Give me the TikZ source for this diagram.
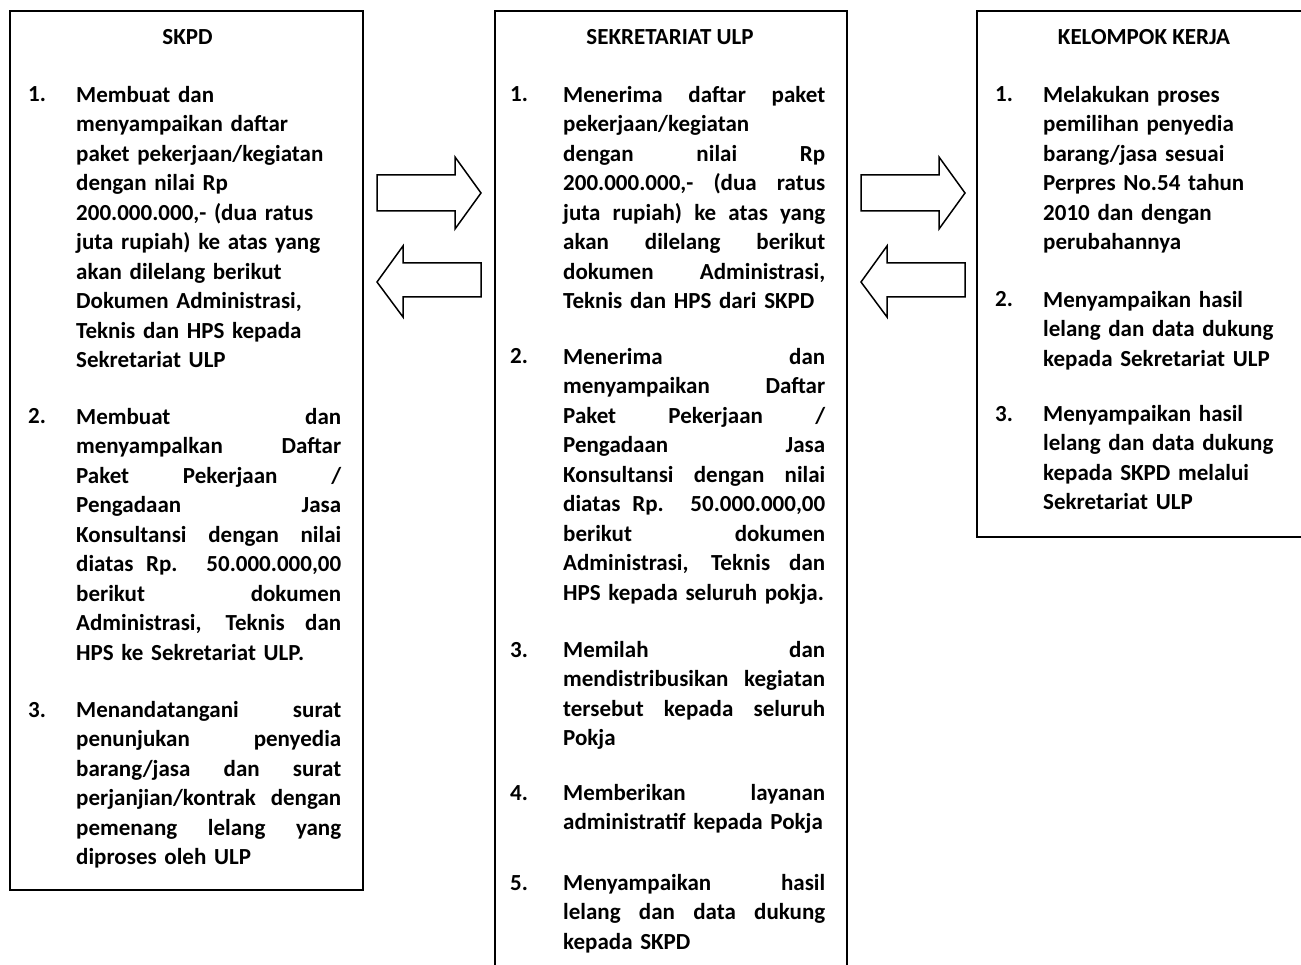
\documentclass[tikz,border=0pt]{standalone}
\usepackage{fontspec}
\setmainfont{Carlito}
\newlength{\colL}\setlength{\colL}{265pt}
\newlength{\colM}\setlength{\colM}{262pt}
\newlength{\colR}\setlength{\colR}{250pt}
\newcommand{\jL}[1]{\makebox[\colL][s]{\spaceskip=0pt\xspaceskip=0pt\strut #1}\\}
\newcommand{\jM}[1]{\makebox[\colM][s]{\spaceskip=0pt\xspaceskip=0pt\strut #1}\\}
\begin{document}
\begin{tikzpicture}[x=1pt,y=-1pt,
  txt/.style={font=\fontsize{23}{29.5}\selectfont\bfseries},
  boxline/.style={line width=1.6pt, line join=miter},
  blockarrow/.style={line width=1.5pt, line join=miter, fill=white},
  title/.style={txt, anchor=base, inner sep=0pt},
  num/.style={txt, anchor=base west, inner sep=0pt},
  itemL/.style={txt, anchor=north west, inner sep=0pt, text width=\colL, align=left},
  itemM/.style={txt, anchor=north west, inner sep=0pt, text width=\colM, align=left},
  itemR/.style={txt, anchor=north west, inner sep=0pt, text width=\colR, align=left}]
\useasboundingbox (0,0) rectangle (1301,965);
\fill[white] (0,0) rectangle (1301,965);

% boxes
\draw[boxline] (10,11) rectangle (363,890);
\draw[boxline] (495,980) -- (495,11) -- (847,11) -- (847,980);
\draw[boxline] (1301,537) -- (977,537) -- (977,11) -- (1301,11);

% titles
\node[title] (tSKPD) at (187.5,45) {SKPD};
\node[title] (tULP) at (670,45) {SEKRETARIAT ULP};
\node[title] (tKK) at (1144,45) {KELOMPOK KERJA};

% SKPD items
\node[num] (s1n) at (28,102) {1.};
\node[itemL] (s1) at (76,81.35) {\strut Membuat dan\\
menyampaikan daftar\\
paket pekerjaan/kegiatan\\
dengan nilai Rp\\
200.000.000,- (dua ratus\\
juta rupiah) ke atas yang\\
akan dilelang berikut\\
Dokumen Administrasi,\\
Teknis dan HPS kepada\\
Sekretariat ULP};

\node[num] (s2n) at (28,424) {2.};
\node[itemL] (s2) at (76,403.35) {\jL{Membuat dan}
\jL{menyampalkan Daftar}
\jL{Paket Pekerjaan /}
\jL{Pengadaan Jasa}
\jL{Konsultansi dengan nilai}
\jL{diatas Rp. 50.000.000,00}
\jL{berikut dokumen}
\jL{Administrasi, Teknis dan}
HPS ke Sekretariat ULP.};

\node[num] (s3n) at (28,717) {3.};
\node[itemL] (s3) at (76,696.35) {\jL{Menandatangani surat}
\jL{penunjukan penyedia}
\jL{barang/jasa dan surat}
\jL{perjanjian/kontrak dengan}
\jL{pemenang lelang yang}
diproses oleh ULP};

% ULP items
\node[num] (u1n) at (510,102) {1.};
\node[itemM] (u1) at (563,81.35) {\jM{Menerima daftar paket}
pekerjaan/kegiatan\\
\jM{dengan nilai Rp}
\jM{200.000.000,- (dua ratus}
\jM{juta rupiah) ke atas yang}
\jM{akan dilelang berikut}
\jM{dokumen Administrasi,}
Teknis dan HPS dari SKPD};

\node[num] (u2n) at (510,364) {2.};
\node[itemM] (u2) at (563,343.35) {\jM{Menerima dan}
\jM{menyampaikan Daftar}
\jM{Paket Pekerjaan /}
\jM{Pengadaan Jasa}
\jM{Konsultansi dengan nilai}
\jM{diatas Rp. 50.000.000,00}
\jM{berikut dokumen}
\jM{Administrasi, Teknis dan}
HPS kepada seluruh pokja.};

\node[num] (u3n) at (510,657) {3.};
\node[itemM] (u3) at (563,636.35) {\jM{Memilah dan}
\jM{mendistribusikan kegiatan}
\jM{tersebut kepada seluruh}
Pokja};

\node[num] (u4n) at (510,800) {4.};
\node[itemM] (u4) at (563,779.35) {\jM{Memberikan layanan}
administratif kepada Pokja};

\node[num] (u5n) at (510,890) {5.};
\node[itemM] (u5) at (563,869.35) {\jM{Menyampaikan hasil}
\jM{lelang dan data dukung}
kepada SKPD};

% Kelompok Kerja items
\node[num] (k1n) at (995,102) {1.};
\node[itemR] (k1) at (1043,81.35) {\strut Melakukan proses\\
pemilihan penyedia\\
barang/jasa sesuai\\
Perpres No.54 tahun\\
2010 dan dengan\\
perubahannya};

\node[num] (k2n) at (995,307) {2.};
\node[itemR] (k2) at (1043,286.35) {\strut Menyampaikan hasil\\
lelang dan data dukung\\
kepada Sekretariat ULP};

\node[num] (k3n) at (995,421) {3.};
\node[itemR] (k3) at (1043,400.35) {\strut Menyampaikan hasil\\
lelang dan data dukung\\
kepada SKPD melalui\\
Sekretariat ULP};

% block arrows SKPD <-> ULP
\draw[blockarrow] (377,175) -- (455,175) -- (455,157) -- (481,193) -- (455,229) -- (455,211) -- (377,211) -- cycle;
\draw[blockarrow] (377,282) -- (403,246) -- (403,263) -- (481,263) -- (481,297) -- (403,297) -- (403,317) -- cycle;
% block arrows ULP <-> Kelompok Kerja
\draw[blockarrow] (861,175) -- (939,175) -- (939,157) -- (965,193) -- (939,229) -- (939,211) -- (861,211) -- cycle;
\draw[blockarrow] (861,282) -- (887,246) -- (887,263) -- (965,263) -- (965,297) -- (887,297) -- (887,317) -- cycle;
\end{tikzpicture}
\end{document}
